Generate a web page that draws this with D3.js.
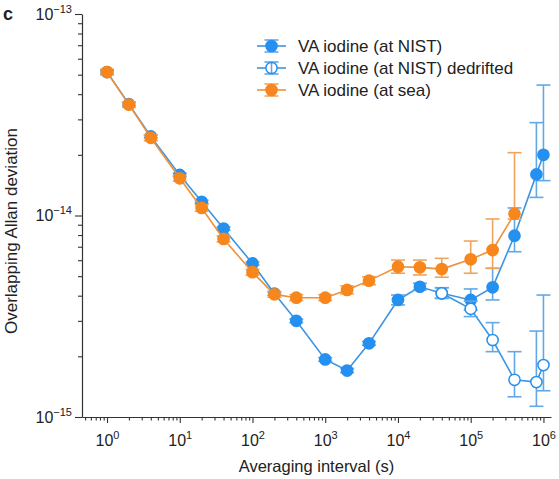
<!DOCTYPE html>
<html>
<head>
<meta charset="utf-8">
<script src="https://cdn.jsdelivr.net/npm/d3@7"></script>
<style>
  body { margin: 0; background: #fff; }
  text { font-family: "Liberation Sans", Arial, sans-serif; fill: #222; }
</style>
</head>
<body>
<div id="d3-container"></div>
<script>
// averaging intervals (s)
const tauNist = [1, 2, 4, 10, 20, 40, 100, 200, 400, 1000, 2000, 4000, 1e4, 2e4, 4e4, 1e5, 2e5, 4e5, 8e5, 1e6];
const nistVal = [5.15e-14, 3.57e-14, 2.47e-14, 1.59e-14, 1.17e-14, 8.62e-15, 5.78e-15, 4.10e-15, 3.00e-15, 1.93e-15,
  1.70e-15, 2.32e-15, 3.81e-15, 4.43e-15, 4.11e-15, 3.81e-15, 4.40e-15, 7.94e-15, 1.60e-14, 2.00e-14];
const nistLo = [5.06e-14, 3.51e-14, 2.43e-14, 1.56e-14, 1.15e-14, 8.47e-15, 5.68e-15, 4.02e-15, 2.94e-15, 1.89e-15,
  1.66e-15, 2.27e-15, 3.60e-15, 4.27e-15, 3.88e-15, 3.40e-15, 3.81e-15, 6.61e-15, 1.23e-14, 1.49e-14];
const nistHi = [5.24e-14, 3.63e-14, 2.51e-14, 1.62e-14, 1.19e-14, 8.77e-15, 5.88e-15, 4.18e-15, 3.06e-15, 1.97e-15,
  1.74e-15, 2.37e-15, 4.03e-15, 4.61e-15, 4.38e-15, 4.32e-15, 5.47e-15, 1.09e-14, 2.89e-14, 4.44e-14];

const tauDedrift = [4e4, 1e5, 2e5, 4e5, 8e5, 1e6];
const dedriftVal = [4.11e-15, 3.44e-15, 2.41e-15, 1.53e-15, 1.49e-15, 1.81e-15];
const dedriftLo = [3.88e-15, 3.15e-15, 2.11e-15, 1.26e-15, 1.13e-15, 1.35e-15];
const dedriftHi = [4.38e-15, 3.76e-15, 2.94e-15, 2.11e-15, 2.67e-15, 4.03e-15];

const tauSea = [1, 2, 4, 10, 20, 40, 100, 200, 400, 1000, 2000, 4000, 1e4, 2e4, 4e4, 1e5, 2e5, 4e5];
const seaVal = [5.15e-14, 3.55e-14, 2.43e-14, 1.53e-14, 1.09e-14, 7.65e-15, 5.23e-15, 4.06e-15, 3.91e-15, 3.91e-15,
  4.27e-15, 4.75e-15, 5.57e-15, 5.53e-15, 5.42e-15, 6.06e-15, 6.74e-15, 1.02e-14];
const seaLo = [4.98e-14, 3.44e-14, 2.35e-14, 1.48e-14, 1.05e-14, 7.40e-15, 5.06e-15, 3.93e-15, 3.78e-15, 3.78e-15,
  4.08e-15, 4.54e-15, 5.17e-15, 5.07e-15, 4.94e-15, 5.17e-15, 5.47e-15, 9.60e-15];
const seaHi = [5.32e-14, 3.66e-14, 2.51e-14, 1.58e-14, 1.13e-14, 7.91e-15, 5.40e-15, 4.20e-15, 4.05e-15, 4.05e-15,
  4.47e-15, 4.97e-15, 6.01e-15, 6.01e-15, 6.13e-15, 7.47e-15, 9.61e-15, 2.05e-14];

const legendLabels = ['VA iodine (at NIST)', 'VA iodine (at NIST) dedrifted', 'VA iodine (at sea)'];
const xMajor = [1, 10, 100, 1000, 1e4, 1e5, 1e6];
const xExp = ['0', '1', '2', '3', '4', '5', '6'];
const yMajor = [1e-13, 1e-14, 1e-15];
const yExp = ['\u221213', '\u221214', '\u221215'];

const width = 559;
const height = 479;
const blue = '#2490f0', blueLine = '#3d95e2', blueErr = '#62a8e6';
const orange = '#f7861c', orangeLine = '#ee913c', orangeErr = '#f0a45a';

const svg = d3.select('#d3-container')
  .append('svg')
  .attr('width', width)
  .attr('height', height);

const x = d3.scaleLog().domain([0.453, 1.27e6]).range([82, 551]);
const y = d3.scaleLog().domain([1e-15, 1e-13]).range([417, 14]);

// minor ticks
const xMinor = [];
for (let e = -1; e <= 6; e++) for (let k = 2; k <= 9; k++) {
  const v = k * Math.pow(10, e);
  if (v >= 0.453 && v <= 1.27e6) xMinor.push(v);
}
const yMinor = [];
for (let e = -15; e <= -14; e++) for (let k = 2; k <= 9; k++) yMinor.push(k * Math.pow(10, e));

function styleAxis(g) {
  g.select('.domain').attr('stroke', '#333').attr('stroke-width', 1.2);
  g.selectAll('.tick line').attr('stroke', '#333').attr('stroke-width', 1.1);
}

svg.append('g')
  .attr('transform', 'translate(0,417)')
  .call(d3.axisBottom(x).tickValues(xMinor).tickSize(3.5).tickSizeOuter(0).tickFormat(''))
  .call(styleAxis);

const gx = svg.append('g')
  .attr('transform', 'translate(0,417)')
  .call(d3.axisBottom(x).tickValues(xMajor).tickSize(6).tickSizeOuter(0).tickFormat(''))
  .call(styleAxis);
gx.select('.domain').remove();
gx.selectAll('.tick').append('text')
  .attr('y', 29)
  .attr('text-anchor', 'middle')
  .style('font-size', '16px')
  .each(function (d, i) {
    const t = d3.select(this);
    t.append('tspan').text('10');
    t.append('tspan').attr('dy', -7).style('font-size', '11px').text(xExp[i]);
  });

svg.append('g')
  .attr('transform', 'translate(82,0)')
  .call(d3.axisLeft(y).tickValues(yMinor).tickSize(4).tickSizeOuter(0).tickFormat(''))
  .call(styleAxis);

const gy = svg.append('g')
  .attr('transform', 'translate(82,0)')
  .call(d3.axisLeft(y).tickValues(yMajor).tickSize(7).tickSizeOuter(0).tickFormat(''))
  .call(styleAxis);
gy.select('.domain').remove();
gy.selectAll('.tick').append('text')
  .attr('x', -10)
  .attr('y', 5)
  .attr('text-anchor', 'end')
  .style('font-size', '16px')
  .each(function (d, i) {
    const t = d3.select(this);
    t.append('tspan').text('10');
    t.append('tspan').attr('dy', -7).style('font-size', '11px').text(yExp[i]);
  });

svg.append('text')
  .attr('x', (82 + 551) / 2)
  .attr('y', 472)
  .attr('text-anchor', 'middle')
  .style('font-size', '16.5px')
  .text('Averaging interval (s)');

svg.append('text')
  .attr('transform', 'translate(17,231) rotate(-90)')
  .attr('text-anchor', 'middle')
  .style('font-size', '17px')
  .text('Overlapping Allan deviation');

svg.append('text')
  .attr('x', 3)
  .attr('y', 20)
  .style('font-size', '18px')
  .style('font-weight', 'bold')
  .text('c');

function drawSeries(taus, vals, lo, hi, lineCol, errCol, fill, stroke) {
  const pts = taus.map((t, i) => ({t: t, v: vals[i], lo: lo[i], hi: hi[i]}));
  const g = svg.append('g');
  g.append('path')
    .datum(pts)
    .attr('fill', 'none')
    .attr('stroke', lineCol)
    .attr('stroke-width', 1.6)
    .attr('d', d3.line().x(d => x(d.t)).y(d => y(d.v)));
  const eb = g.selectAll('.err').data(pts).join('g').attr('stroke', errCol).attr('stroke-width', 1.6);
  eb.append('line')
    .attr('x1', d => x(d.t)).attr('x2', d => x(d.t))
    .attr('y1', d => y(d.lo)).attr('y2', d => y(d.hi));
  eb.append('line')
    .attr('x1', d => x(d.t) - 7).attr('x2', d => x(d.t) + 7)
    .attr('y1', d => y(d.lo)).attr('y2', d => y(d.lo));
  eb.append('line')
    .attr('x1', d => x(d.t) - 7).attr('x2', d => x(d.t) + 7)
    .attr('y1', d => y(d.hi)).attr('y2', d => y(d.hi));
  g.selectAll('circle').data(pts).join('circle')
    .attr('cx', d => x(d.t))
    .attr('cy', d => y(d.v))
    .attr('r', 5.6)
    .attr('fill', fill)
    .attr('stroke', stroke)
    .attr('stroke-width', 1.5);
}

drawSeries(tauNist, nistVal, nistLo, nistHi, blueLine, blueErr, blue, blue);
drawSeries(tauDedrift, dedriftVal, dedriftLo, dedriftHi, blueLine, blueErr, '#fff', blue);
drawSeries(tauSea, seaVal, seaLo, seaHi, orangeLine, orangeErr, orange, orange);

// legend
const legRows = [46, 68, 90];
const legStyle = [
  {line: blueLine, err: blueErr, fill: blue, stroke: blue},
  {line: blueLine, err: blueErr, fill: 'none', stroke: blue},
  {line: orangeLine, err: orangeErr, fill: orange, stroke: orange}
];
const leg = svg.append('g');
legendLabels.forEach((lab, i) => {
  const cy = legRows[i], cx = 271.5, s = legStyle[i];
  const row = leg.append('g');
  row.append('line').attr('x1', 257).attr('x2', cx - 5.6).attr('y1', cy).attr('y2', cy)
    .attr('stroke', s.line).attr('stroke-width', 1.6);
  row.append('line').attr('x1', cx + 5.6).attr('x2', 286).attr('y1', cy).attr('y2', cy)
    .attr('stroke', s.line).attr('stroke-width', 1.6);
  row.append('line').attr('x1', cx).attr('x2', cx).attr('y1', cy - 6).attr('y2', cy + 6)
    .attr('stroke', s.err).attr('stroke-width', 1.6);
  [cy - 6, cy + 6].forEach(yy => {
    row.append('line').attr('x1', cx - 7).attr('x2', cx + 7).attr('y1', yy).attr('y2', yy)
      .attr('stroke', s.err).attr('stroke-width', 1.6);
  });
  row.append('circle').attr('cx', cx).attr('cy', cy).attr('r', 5.6)
    .attr('fill', s.fill).attr('stroke', s.stroke).attr('stroke-width', 1.5);
  row.append('text').attr('x', 298).attr('y', cy + 6)
    .style('font-size', '17px').text(lab);
});
</script>
</body>
</html>
